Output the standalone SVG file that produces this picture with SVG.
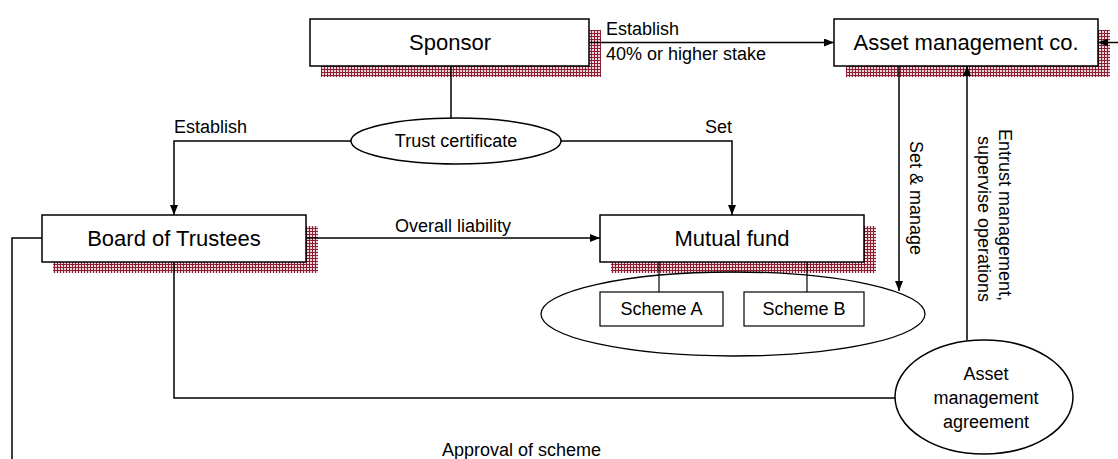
<svg xmlns="http://www.w3.org/2000/svg" width="1118" height="459" viewBox="0 0 1118 459">
  <style>
    .box { fill: #ffffff; stroke: #000000; stroke-width: 1.5; }
    .shadow { fill: url(#hatch); }
    .oval { fill: #ffffff; stroke: #000000; stroke-width: 1.5; }
    .ring { fill: none; stroke: #000000; stroke-width: 1.3; }
    .small { fill: #ffffff; stroke: #000000; stroke-width: 1.2; }
    .link { fill: none; stroke: #000000; stroke-width: 1.5; }
    .thin { fill: none; stroke: #000000; stroke-width: 1.2; }
    .arrow { marker-end: url(#head); }
    .big { font-family: "Liberation Sans", Arial, sans-serif; font-size: 22px; fill: #000000; text-anchor: middle; }
    .lbl { font-family: "Liberation Sans", Arial, sans-serif; font-size: 18px; fill: #000000; }
    .mid { text-anchor: middle; }
    .end { text-anchor: end; }
  </style>
  <defs>
    <!-- fine dark-red grid used for the drop shadows -->
    <pattern id="hatch" x="0" y="0" width="3" height="3" patternUnits="userSpaceOnUse">
      <rect x="0" y="0" width="3" height="3" fill="#8c1d33"/>
      <rect x="1" y="1" width="2" height="2" fill="#ecd7db"/>
    </pattern>
    <marker id="head" viewBox="0 0 10 8" refX="10" refY="4" markerWidth="10" markerHeight="8" markerUnits="userSpaceOnUse" orient="auto">
      <path d="M0,0 L10,4 L0,8 z" fill="#000000"/>
    </marker>
  </defs>

  <rect width="1118" height="459" fill="#ffffff"/>

  <!-- shadows sit beneath everything -->
  <g id="shadows">
    <rect class="shadow" x="321" y="30" width="280" height="47"/>
    <rect class="shadow" x="846" y="30" width="264" height="47"/>
    <rect class="shadow" x="53" y="226" width="265" height="47"/>
    <rect class="shadow" x="611" y="226" width="265" height="47"/>
  </g>

  <g id="sponsor">
    <rect class="box" x="310" y="19" width="279" height="47"/>
    <text class="big" x="450" y="50">Sponsor</text>
  </g>

  <g id="asset-management-co">
    <rect class="box" x="834" y="19" width="264" height="47"/>
    <text class="big" x="966" y="50">Asset management co.</text>
  </g>

  <g id="trust-certificate">
    <ellipse class="oval" cx="456" cy="141" rx="105" ry="23"/>
    <text class="lbl mid" x="456" y="147">Trust certificate</text>
  </g>

  <g id="board-of-trustees">
    <rect class="box" x="42" y="215" width="264" height="47"/>
    <text class="big" x="174" y="246">Board of Trustees</text>
  </g>

  <g id="scheme-group">
    <ellipse class="ring" cx="733" cy="314" rx="192" ry="42"/>
  </g>

  <g id="mutual-fund">
    <rect class="box" x="600" y="215" width="264" height="47"/>
    <text class="big" x="732" y="246">Mutual fund</text>
  </g>

  <g id="scheme-a">
    <rect class="small" x="600" y="292" width="123" height="34"/>
    <text class="lbl mid" x="661.5" y="315">Scheme A</text>
  </g>

  <g id="scheme-b">
    <rect class="small" x="744" y="292" width="120" height="34"/>
    <text class="lbl mid" x="804" y="315">Scheme B</text>
  </g>

  <g id="asset-management-agreement">
    <ellipse class="oval" cx="984" cy="397" rx="89" ry="57"/>
    <text class="lbl mid" x="986" y="380">Asset</text>
    <text class="lbl mid" x="986" y="404">management</text>
    <text class="lbl mid" x="986" y="428">agreement</text>
  </g>

  <g id="connectors">
    <path class="link arrow" d="M589,42.5 H834"/>
    <path class="link arrow" d="M1118,42.5 H1098"/>
    <path class="link" d="M451,66 V118"/>
    <path class="link arrow" d="M351,141 H174 V215"/>
    <path class="link arrow" d="M561,141 H732 V215"/>
    <path class="link arrow" d="M306,238 H600"/>
    <path class="link" d="M42,238 H12 V459"/>
    <path class="link" d="M174,262 V398 H895"/>
    <path class="link arrow" d="M899,66 V291"/>
    <path class="link arrow" d="M967,340 V66"/>
    <path class="thin" d="M659,262 V292"/>
    <path class="thin" d="M807,262 V292"/>
  </g>

  <g id="labels">
    <text class="lbl" x="606" y="35">Establish</text>
    <text class="lbl" x="606" y="60">40% or higher stake</text>
    <text class="lbl" x="174" y="133">Establish</text>
    <text class="lbl end" x="732" y="133">Set</text>
    <text class="lbl mid" x="453" y="232">Overall liability</text>
    <text class="lbl mid" transform="translate(910,198) rotate(90)">Set &amp; manage</text>
    <text class="lbl mid" transform="translate(999,215) rotate(90)">Entrust management,</text>
    <text class="lbl mid" transform="translate(978,219) rotate(90)">supervise operations</text>
    <text class="lbl" x="442" y="456">Approval of scheme</text>
  </g>
</svg>
